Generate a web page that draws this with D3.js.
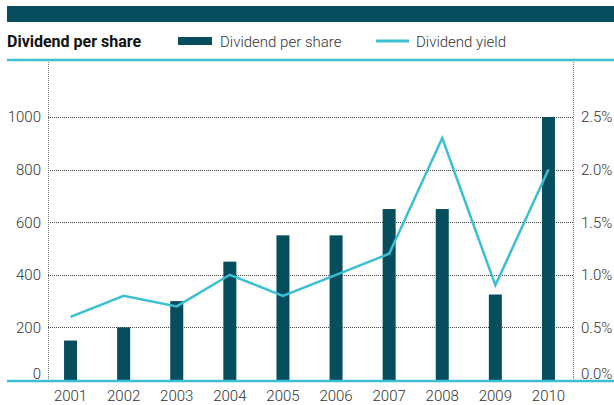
<!DOCTYPE html>
<meta charset="utf-8">
<style>
    body { margin: 0; background: #fff; }
    text { font-family: Roboto, sans-serif; }
    .axis text { font-size: 15px; font-weight: 300; fill: #333; }
</style>
<div class="chart"></div>
<script src="https://cdn.jsdelivr.net/npm/d3@7/dist/d3.min.js"></script>
<script>
    var years = ["2001","2002","2003","2004","2005","2006","2007","2008","2009","2010"];
    var dividend = [150, 200, 300, 450, 550, 550, 650, 650, 325, 1000];
    var yieldPct = [0.6, 0.8, 0.7, 1.0, 0.8, 1.0, 1.2, 2.3, 0.9, 2.0];
    var leftTicks = [0, 200, 400, 600, 800, 1000];
    var rightTicks = [0, 0.5, 1.0, 1.5, 2.0, 2.5];

    var W = 614, H = 405;
    var dark = "#064d5e", cyan = "#3bbfd4";
    var plotL = 48, plotR = 573, plotT = 60, plotB = 380;

    var svg = d3.select(".chart").append("svg")
        .attr("width", W).attr("height", H);

    // top band
    svg.append("rect").attr("x", 7).attr("y", 6).attr("width", W - 7).attr("height", 16).attr("fill", dark);

    // header / legend
    svg.append("text").attr("x", 7).attr("y", 47)
        .attr("font-size", 16).attr("font-weight", 700).attr("fill", "#111")
        .text("Dividend per share");
    svg.append("rect").attr("x", 178).attr("y", 37).attr("width", 34).attr("height", 8).attr("fill", dark);
    svg.append("text").attr("x", 220).attr("y", 47).attr("font-size", 15).attr("font-weight", 300).attr("fill", "#333")
        .text("Dividend per share");
    svg.append("line").attr("x1", 376).attr("x2", 409).attr("y1", 41).attr("y2", 41)
        .attr("stroke", cyan).attr("stroke-width", 3);
    svg.append("text").attr("x", 416).attr("y", 47).attr("font-size", 15).attr("font-weight", 300).attr("fill", "#333")
        .text("Dividend yield");

    var x = d3.scaleBand().domain(years).range([44, 575]);
    var y = d3.scaleLinear().domain([0, 1000]).range([plotB, 117]);
    var y2 = d3.scaleLinear().domain([0, 2.5]).range([plotB, 117]);

    // grid
    svg.append("g").selectAll("line").data(leftTicks.slice(1)).enter().append("line")
        .attr("x1", plotL).attr("x2", plotR)
        .attr("y1", function(d) { return Math.round(y(d)) + 0.5; })
        .attr("y2", function(d) { return Math.round(y(d)) + 0.5; })
        .attr("stroke", "#444").attr("stroke-dasharray", "1,1");

    // vertical dashed frame lines
    [plotL, plotR].forEach(function(px) {
        svg.append("line").attr("x1", px + 0.5).attr("x2", px + 0.5).attr("y1", plotT).attr("y2", plotB)
            .attr("stroke", "#777").attr("stroke-dasharray", "1,1");
    });

    // bars
    svg.append("g").selectAll("rect").data(dividend).enter().append("rect")
        .attr("x", function(d, i) { return x(years[i]) + x.bandwidth() / 2 - 6.5; })
        .attr("width", 13)
        .attr("y", function(d) { return y(d); })
        .attr("height", function(d) { return plotB - y(d); })
        .attr("fill", dark);

    // yield line
    var line = d3.line()
        .x(function(d, i) { return x(years[i]) + x.bandwidth() / 2; })
        .y(function(d) { return y2(d); });
    svg.append("path").datum(yieldPct).attr("d", line)
        .attr("fill", "none").attr("stroke", cyan).attr("stroke-width", 2.5);

    // top and bottom cyan rules
    svg.append("line").attr("x1", 7).attr("x2", W).attr("y1", 60).attr("y2", 60)
        .attr("stroke", cyan).attr("stroke-width", 2.5);
    svg.append("line").attr("x1", 7).attr("x2", W).attr("y1", plotB + 1).attr("y2", plotB + 1)
        .attr("stroke", cyan).attr("stroke-width", 2.5);

    // axes
    var yAxis = d3.axisLeft(y).tickValues(leftTicks).tickSize(0).tickPadding(0)
        .tickFormat(d3.format("d"));
    svg.append("g").attr("class", "axis").attr("transform", "translate(41,0)")
        .call(yAxis).call(function(g) { g.select(".domain").remove(); })
        .selectAll("text").attr("dy", function(d) { return d == 0 ? "-0.1em" : "0.32em"; });

    var y2Axis = d3.axisRight(y2).tickValues(rightTicks).tickSize(0).tickPadding(0)
        .tickFormat(function(d) { return d.toFixed(1) + "%"; });
    svg.append("g").attr("class", "axis").attr("transform", "translate(581,0)")
        .call(y2Axis).call(function(g) { g.select(".domain").remove(); })
        .selectAll("text").attr("dy", function(d) { return d == 0 ? "-0.1em" : "0.32em"; });

    var xAxis = d3.axisBottom(x).tickSize(0).tickPadding(0);
    svg.append("g").attr("class", "axis").attr("transform", "translate(0,390)")
        .call(xAxis).call(function(g) { g.select(".domain").remove(); });
</script>
